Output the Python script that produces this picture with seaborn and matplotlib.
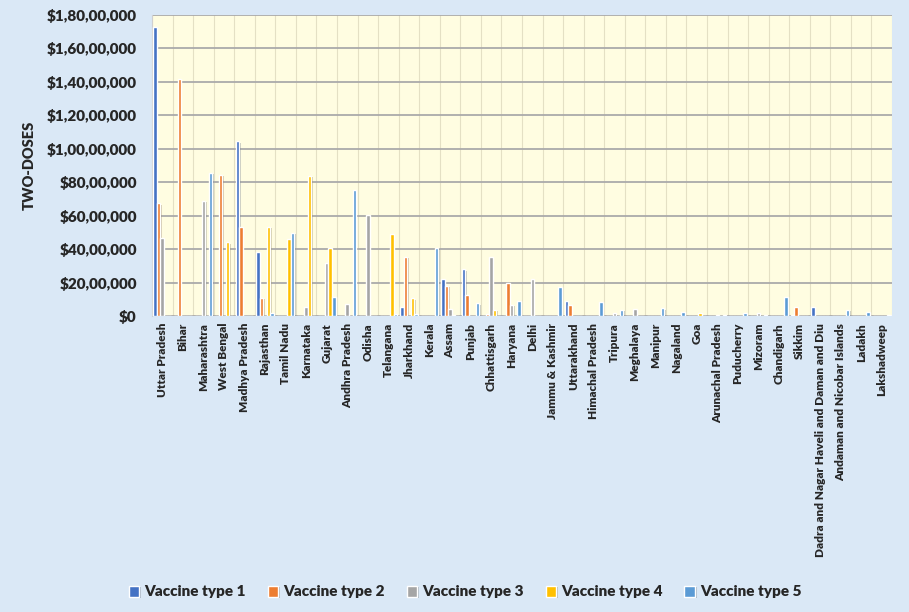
import numpy as np
import pandas as pd
import matplotlib
matplotlib.use('Agg')
import matplotlib.pyplot as plt
import matplotlib.patheffects as pe
from matplotlib.ticker import FuncFormatter, MultipleLocator, FixedLocator
import seaborn as sns

# States in the order shown on the chart
states = ['Uttar Pradesh', 'Bihar', 'Maharashtra', 'West Bengal', 'Madhya Pradesh',
          'Rajasthan', 'Tamil Nadu', 'Karnataka', 'Gujarat', 'Andhra Pradesh',
          'Odisha', 'Telangana', 'Jharkhand', 'Kerala', 'Assam', 'Punjab',
          'Chhattisgarh', 'Haryana', 'Delhi', 'Jammu & Kashmir', 'Uttarakhand',
          'Himachal Pradesh', 'Tripura', 'Meghalaya', 'Manipur', 'Nagaland', 'Goa',
          'Arunachal Pradesh', 'Puducherry', 'Mizoram', 'Chandigarh', 'Sikkim',
          'Dadra and Nagar Haveli and Daman and Diu', 'Andaman and Nicobar Islands',
          'Ladakh', 'Lakshadweep']

# Two-dose counts per vaccine type
type1 = [17300000, 0, 0, 0, 10450000, 3810000, 0, 0, 0, 0,
         0, 0, 560000, 0, 2210000, 2790000, 0, 0, 0, 0,
         900000, 0, 0, 0, 0, 0, 0, 0, 0, 0,
         0, 50000, 520000, 0, 0, 0]
type2 = [6740000, 14170000, 0, 8450000, 5320000, 1100000, 0, 0, 0, 0,
         0, 0, 3550000, 0, 1810000, 1240000, 100000, 1960000, 0, 0,
         640000, 0, 0, 0, 0, 0, 0, 0, 0, 0,
         0, 520000, 0, 0, 0, 0]
type3 = [4640000, 0, 6880000, 0, 0, 0, 0, 540000, 3150000, 720000,
         6060000, 0, 0, 0, 400000, 0, 3530000, 660000, 2190000, 0,
         0, 0, 160000, 440000, 0, 0, 0, 80000, 0, 160000,
         0, 0, 0, 0, 0, 0]
type4 = [0, 0, 0, 4410000, 0, 5320000, 4620000, 8370000, 4050000, 0,
         0, 4900000, 1060000, 0, 50000, 0, 360000, 0, 0, 0,
         0, 0, 0, 0, 0, 0, 160000, 0, 0, 0,
         0, 0, 0, 0, 0, 0]
type5 = [0, 0, 8570000, 0, 0, 160000, 4980000, 0, 1140000, 7530000,
         0, 100000, 100000, 4070000, 0, 760000, 0, 920000, 0, 1710000,
         0, 820000, 360000, 0, 460000, 240000, 0, 60000, 160000, 80000,
         1120000, 0, 0, 360000, 220000, 40000]

series = ['Vaccine type 1', 'Vaccine type 2', 'Vaccine type 3', 'Vaccine type 4', 'Vaccine type 5']
colors = ['#4472C4', '#ED7D31', '#A5A5A5', '#FFC000', '#5B9BD5']

sns.set_style('white')
plt.rcParams['font.family'] = ['Lato', 'DejaVu Sans']
plt.rcParams['font.weight'] = 'heavy'

df = pd.DataFrame({'State': states, series[0]: type1, series[1]: type2,
                   series[2]: type3, series[3]: type4, series[4]: type5})
long = df.melt(id_vars='State', var_name='Vaccine', value_name='Doses')


# Indian style grouping: $1,80,00,000
def inr(v, pos):
    v = int(round(v))
    if v == 0:
        return '$0'
    s = str(v)
    last3, rest = s[-3:], s[:-3]
    groups = []
    while len(rest) > 2:
        groups.insert(0, rest[-2:])
        rest = rest[:-2]
    if rest:
        groups.insert(0, rest)
    return '$' + ','.join(groups + [last3])


fig = plt.figure(figsize=(9.09, 6.12), dpi=100, facecolor='#dae8f6')
ax = fig.add_axes([0.1672, 0.4837, 0.8141, 0.4918])
ax.set_facecolor('#fffde1')

sns.barplot(data=long, x='State', y='Doses', hue='Vaccine', palette=colors,
            hue_order=series, order=states, width=0.86, gap=0, saturation=1,
            errorbar=None, ax=ax, zorder=3)

# soft shadow like the spreadsheet bars
for bar in ax.patches:
    bar.set_path_effects([pe.SimplePatchShadow(offset=(1, -1), alpha=0.25), pe.Normal()])

ax.set_ylim(0, 18000000)
ax.set_xlim(-0.5, len(states) - 0.5)
ax.yaxis.set_major_locator(MultipleLocator(2000000))
ax.yaxis.set_major_formatter(FuncFormatter(inr))
ax.xaxis.set_minor_locator(FixedLocator(np.arange(len(states) + 1) - 0.5))

ax.grid(axis='y', which='major', color='#aaaaaa', linewidth=1.3, zorder=0)
ax.grid(axis='x', which='minor', color='#e4e0c4', linewidth=0.8, zorder=0)
ax.set_axisbelow(True)
for side in ['top', 'right', 'left', 'bottom']:
    ax.spines[side].set_visible(False)
ax.spines['left'].set_visible(True)
ax.spines['left'].set_color('#d0d0d0')

ax.tick_params(axis='both', which='both', length=0)
ax.tick_params(axis='y', labelsize=11, pad=11)
ax.tick_params(axis='x', labelsize=8.5, pad=5)
plt.setp(ax.get_xticklabels(), rotation=90, ha='center', va='top', fontweight='heavy')
plt.setp(ax.get_yticklabels(), fontweight='heavy')

ax.set_xlabel('')
ax.set_ylabel('TWO-DOSES', fontsize=10.5, fontweight='heavy', labelpad=8)

handles, labels = ax.get_legend_handles_labels()
ax.get_legend().remove()
fig.legend(handles, labels, loc='center', bbox_to_anchor=(465 / 909, 1 - 592 / 612),
           ncol=5, frameon=False, fontsize=11, handlelength=0.7, handleheight=0.7,
           handletextpad=0.3, columnspacing=1.45)

fig.savefig('out.png', dpi=100, facecolor=fig.get_facecolor())
